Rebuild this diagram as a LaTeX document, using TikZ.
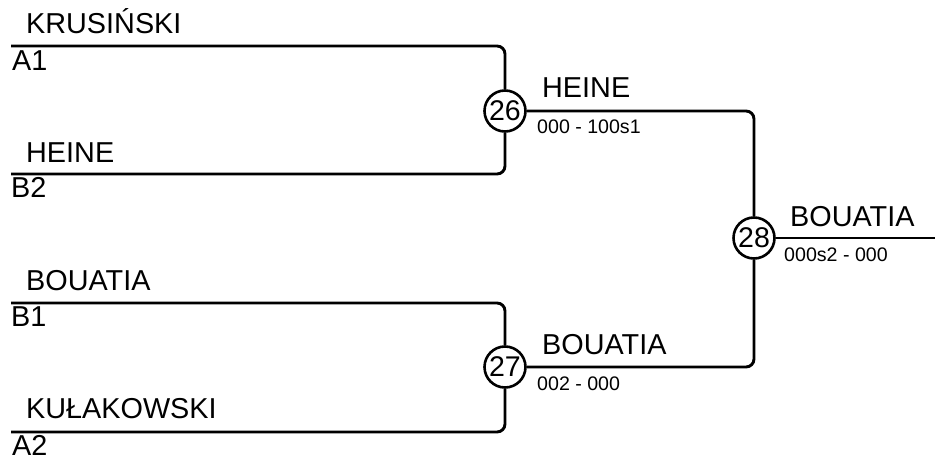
\documentclass[tikz,border=0pt]{standalone}
\usepackage{fontspec}
\setmainfont{Liberation Sans}
\begin{document}
\begin{tikzpicture}[x=1pt,y=-1pt,
  wire/.style={line width=2.9pt,rounded corners=8pt},
  mcirc/.style={circle,draw,line width=2.6pt,minimum size=41pt,inner sep=0pt,fill=white,font=\fontsize{28.5}{28.5}\selectfont},
  plabel/.style={anchor=base west,inner sep=0pt,font=\fontsize{28.8}{28.8}\selectfont},
  slabel/.style={anchor=base west,inner sep=0pt,font=\fontsize{19.6}{19.6}\selectfont}]
\useasboundingbox (0,0) rectangle (935,462);
\coordinate (a1) at (11,46);
\coordinate (b2) at (11,174);
\coordinate (b1) at (11,303);
\coordinate (a2) at (11,432);
\coordinate (fin) at (935,238);
\node[mcirc] (c26) at (505,111) {26};
\node[mcirc] (c27) at (505,367) {27};
\node[mcirc] (c28) at (754,238) {28};
\draw[wire] (a1) -| (c26.north);
\draw[wire] (b2) -| (c26.south);
\draw[wire] (b1) -| (c27.north);
\draw[wire] (a2) -| (c27.south);
\draw[wire] (c26.east) -| (c28.north);
\draw[wire] (c27.east) -| (c28.south);
\draw[wire] (c28.east) -- (fin);
\node[plabel] (n1) at (26,34) {KRUSIŃSKI};
\node[plabel] (s1) at (12,71) {A1};
\node[plabel] (n2) at (26,163) {HEINE};
\node[plabel] (s2) at (11,198) {B2};
\node[plabel] (n3) at (26,291) {BOUATIA};
\node[plabel] (s3) at (11,327) {B1};
\node[plabel] (n4) at (26,418) {KUŁAKOWSKI};
\node[plabel] (s4) at (12,455) {A2};
\node[plabel] (w26) at (542,98) {HEINE};
\node[slabel] (r26) at (537,134) {000 - 100s1};
\node[plabel] (w27) at (542,355) {BOUATIA};
\node[slabel] (r27) at (537,391) {002 - 000};
\node[plabel] (w28) at (790,227) {BOUATIA};
\node[slabel] (r28) at (784,262) {000s2 - 000};
\end{tikzpicture}
\end{document}
